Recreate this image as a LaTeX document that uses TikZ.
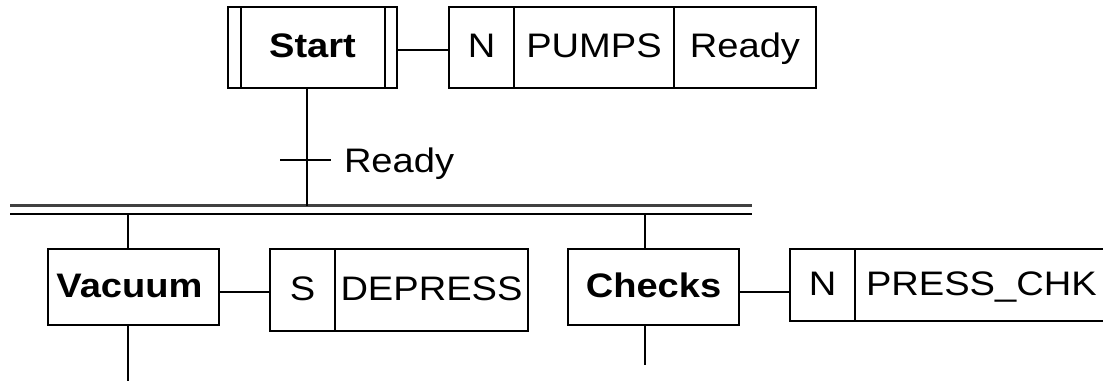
\documentclass[tikz,border=0pt]{standalone}
\usepackage{fontspec}
\newfontfamily\lab{Liberation Sans}[FakeStretch=1.12]
\begin{document}
\begin{tikzpicture}[x=1pt,y=-1pt,
  every node/.style={inner sep=0pt,outer sep=0pt,font=\lab\fontsize{34}{40}\selectfont},
  cell/.style={draw,line width=1.9pt,anchor=north west,text height=20pt,text depth=0pt},
  stepname/.style={cell,font=\lab\fontsize{34}{40}\selectfont\bfseries},
  ln/.style={line width=1.9pt},
  bartop/.style={line width=3pt,black!75},
  barbot/.style={line width=2pt}
]
\useasboundingbox (0,0) rectangle (1103,381);
\clip (0,0) rectangle (1103,381);

% initial step
\node[stepname,minimum width=169pt,minimum height=81pt] (start) at (228,7) {Start};
\draw[ln] ([xshift=13pt]start.north west) -- ([xshift=13pt]start.south west);
\draw[ln] ([xshift=-12pt]start.north east) -- ([xshift=-12pt]start.south east);

% action block of Start
\node[cell,minimum width=65pt,minimum height=81pt] (a1q) at (449,7) {N};
\node[cell,minimum width=160pt,minimum height=81pt] (a1n) at (514,7) {PUMPS};
\node[cell,minimum width=142pt,minimum height=81pt] (a1i) at (674,7) {Ready};
\draw[ln] (start.east |- 0,50) -- (a1q.west |- 0,50);

% transition
\coordinate (t1) at (307,160);
\coordinate (t1l) at (280,160);
\coordinate (t1r) at (331,160);
\node[anchor=base west] (t1lab) at (344,172) {Ready};

% simultaneous divergence bars
\coordinate (b1l) at (10,205.5);
\coordinate (b1r) at (752,205.5);
\coordinate (b2l) at (10,213.5);
\coordinate (b2r) at (752,213.5);
\draw[bartop] (b1l) -- (b1r);
\draw[barbot] (b2l) -- (b2r);

\draw[ln] (start.south -| t1) -- (b1l -| t1);
\draw[ln] (t1l) -- (t1r);

% Vacuum step
\node[stepname,minimum width=171pt,minimum height=76pt] (vac) at (48,249) {\hspace*{-8pt}Vacuum};
\node[cell,minimum width=65pt,minimum height=82pt] (a2q) at (270,249) {S};
\node[cell,minimum width=193pt,minimum height=82pt] (a2n) at (335,249) {DEPRESS};
\coordinate (vx) at (128,0);
\coordinate (vend) at (128,381);
\draw[ln] (b2l -| vx) -- (vac.north -| vx);
\draw[ln] (vac.south -| vx) -- (vend);
\draw[ln] (vac.east |- 0,292) -- (a2q.west |- 0,292);

% Checks step
\node[stepname,minimum width=171pt,minimum height=76pt] (chk) at (568,249) {Checks};
\node[cell,minimum width=65pt,minimum height=72pt] (a3q) at (790,249) {N};
\node[cell,minimum width=330pt,minimum height=72pt] (a3n) at (855,249) {};
\node[anchor=base west] (a3t) at (866,295) {PRESS\_CHK};
\coordinate (cx) at (645,0);
\coordinate (cend) at (645,365);
\draw[ln] (b2l -| cx) -- (chk.north -| cx);
\draw[ln] (chk.south -| cx) -- (cend);
\draw[ln] (chk.east |- 0,292) -- (a3q.west |- 0,292);
\end{tikzpicture}
\end{document}
